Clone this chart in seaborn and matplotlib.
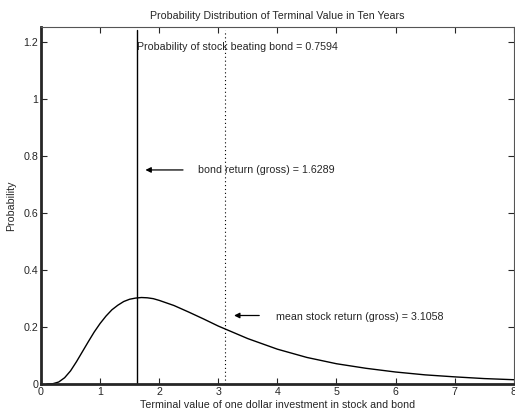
import numpy as np
import pandas as pd
import seaborn as sns
import matplotlib.pyplot as plt

# values
x_vals = [0.1, 0.2, 0.3, 0.4, 0.5, 0.6, 0.7, 0.8, 0.9, 1.0, 1.1, 1.2, 1.3, 1.4, 1.5,
          1.6, 1.7, 1.8, 1.9, 2.0, 2.25, 2.5, 2.75, 3.0, 3.5, 4.0, 4.5, 5.0, 5.5,
          6.0, 6.5, 7.0, 7.5, 8.0]
density = [0.0, 0.001, 0.007, 0.022, 0.046, 0.078, 0.113, 0.148, 0.182, 0.212, 0.238,
           0.260, 0.276, 0.289, 0.297, 0.301, 0.303, 0.302, 0.299, 0.293, 0.275,
           0.252, 0.228, 0.203, 0.159, 0.122, 0.093, 0.071, 0.055, 0.042, 0.032,
           0.025, 0.019, 0.015]

bond_return = 1.6289
mean_stock_return = 3.1058
prob_beat = 0.7594
line_top = 1.24

df = pd.DataFrame({'x': x_vals, 'pdf': density})

sns.set_style('ticks')
plt.rcParams['font.family'] = ['Liberation Sans', 'DejaVu Sans']

fig = plt.figure(figsize=(5.15, 4.11), dpi=100)
ax = fig.add_axes([0.0796, 0.0657, 0.918, 0.868])

sns.lineplot(data=df, x='x', y='pdf', color='black', linewidth=1.0, ax=ax)

# bond return (solid) and mean stock return (dotted)
ax.plot([bond_return, bond_return], [0, line_top], color='black', linewidth=1.0)
ax.plot([mean_stock_return, mean_stock_return], [0, line_top], color='black',
        linewidth=0.8, linestyle=(0, (1, 2.5)))

fs = 7.7
ax.text(bond_return, 1.18, f'Probability of stock beating bond = {prob_beat}',
        fontsize=fs, va='center', ha='left')
ax.annotate('', xy=(1.72, 0.75), xytext=(2.45, 0.75),
            arrowprops=dict(arrowstyle='-|>', color='black', lw=0.9,
                            mutation_scale=8))
ax.text(2.66, 0.75, f'bond return (gross) = {bond_return}', fontsize=fs,
        va='center', ha='left')
ax.annotate('', xy=(3.22, 0.24), xytext=(3.74, 0.24),
            arrowprops=dict(arrowstyle='-|>', color='black', lw=0.9,
                            mutation_scale=8))
ax.text(3.98, 0.235, f'mean stock return (gross) = {mean_stock_return}',
        fontsize=fs, va='center', ha='left')

ax.set_xlim(0, 8)
ax.set_ylim(0, 1.25)
ax.set_xticks(range(0, 9))
ax.set_yticks([0, 0.2, 0.4, 0.6, 0.8, 1, 1.2])
ax.set_yticklabels(['0', '0.2', '0.4', '0.6', '0.8', '1', '1.2'])
ax.tick_params(direction='in', length=4, width=0.8, labelsize=fs,
               top=True, right=True, pad=2)

for side in ['bottom', 'left']:
    ax.spines[side].set_linewidth(2.0)
for side in ['top', 'right']:
    ax.spines[side].set_visible(True)
    ax.spines[side].set_linewidth(0.8)
    ax.spines[side].set_color('#555555')

ax.set_title('Probability Distribution of Terminal Value in Ten Years', fontsize=fs, pad=6)
ax.set_xlabel('Terminal value of one dollar investment in stock and bond', fontsize=fs, labelpad=2)
ax.set_ylabel('Probability', fontsize=fs, labelpad=5)

fig.savefig('out.png', dpi=100)
